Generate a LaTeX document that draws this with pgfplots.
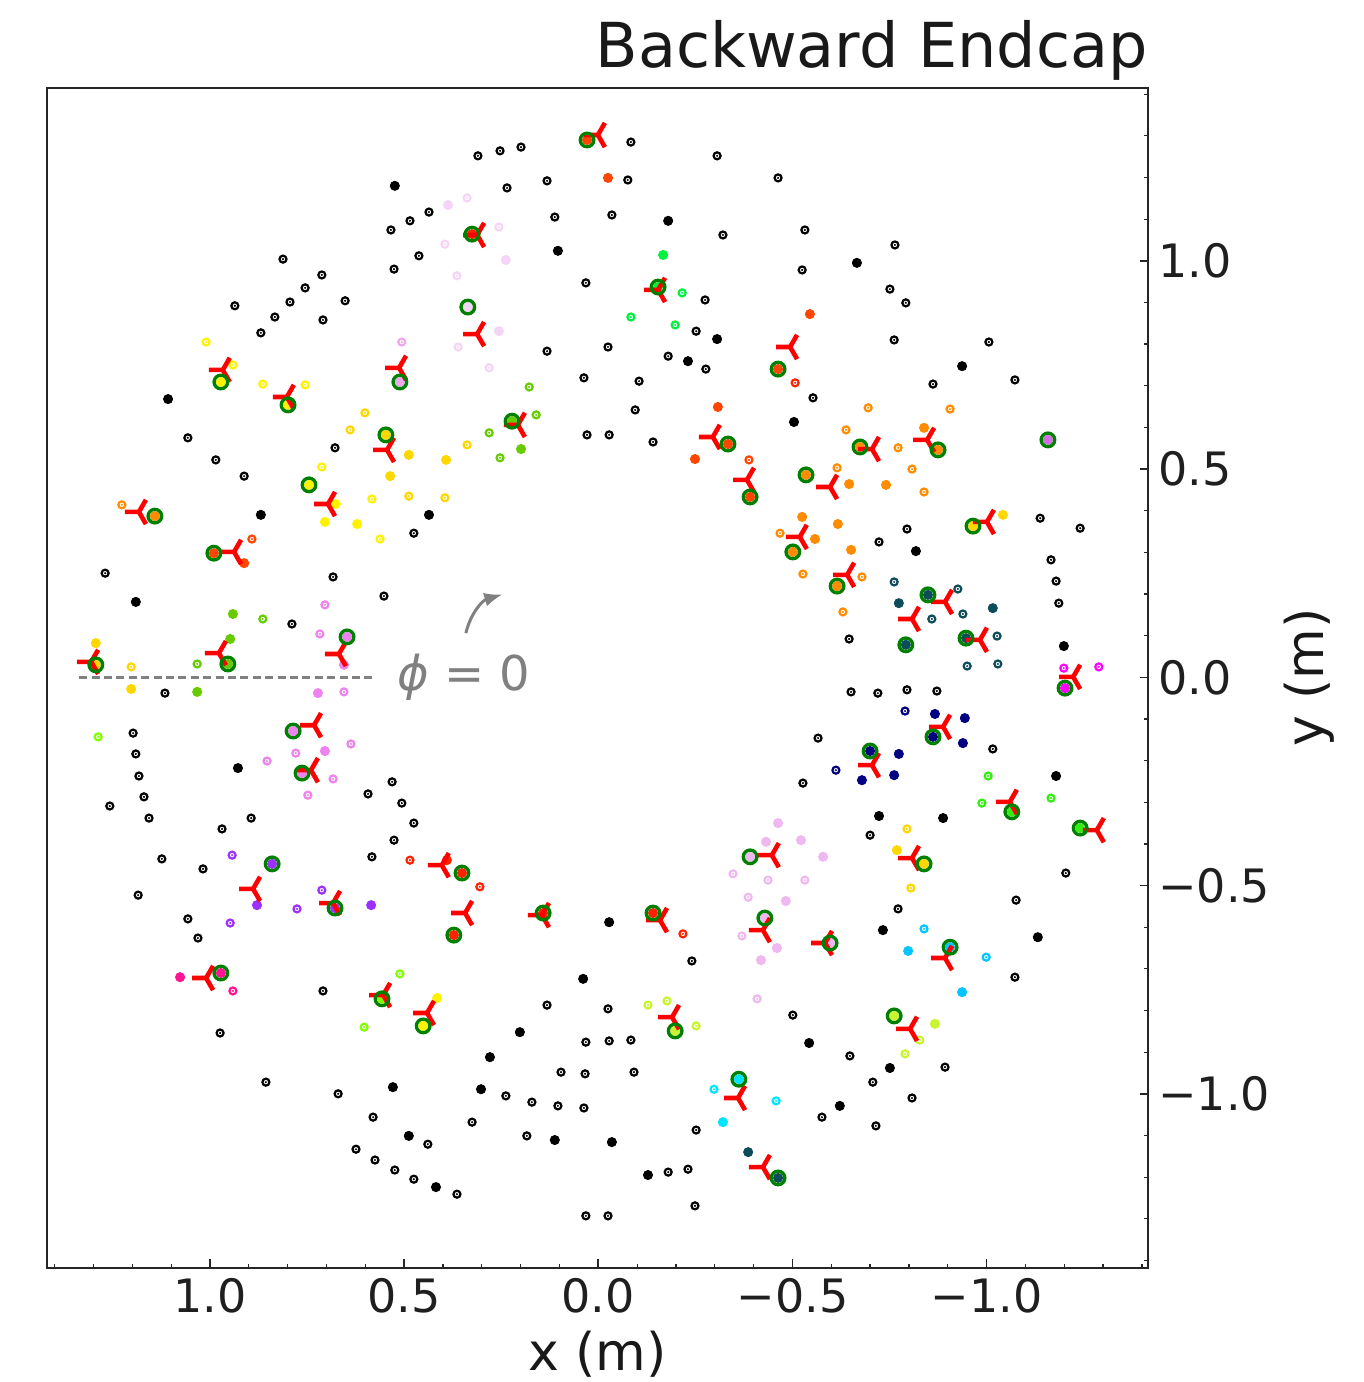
\documentclass[border=0pt]{standalone}
\usepackage{pgfplots}
\pgfplotsset{compat=1.18}
\usepackage{fontspec}
\setmainfont{DejaVu Sans}
\usetikzlibrary{arrows.meta}

\definecolor{cOR}{HTML}{FF4500}
\definecolor{cRD}{HTML}{FF2200}
\definecolor{cOG}{HTML}{FF8C00}
\definecolor{cGD}{HTML}{FFD700}
\definecolor{cYE}{HTML}{FFF200}
\definecolor{cGN}{HTML}{66CC00}
\definecolor{cLM}{HTML}{00F040}
\definecolor{cLMt}{HTML}{33EE11}
\definecolor{cLG}{HTML}{80FF00}
\definecolor{cGY}{HTML}{C8F530}
\definecolor{cVI}{HTML}{EE82EE}
\definecolor{cLP}{HTML}{F5D5F5}
\definecolor{cPL}{HTML}{EBA8EB}
\definecolor{cLQ}{HTML}{F0B8F0}
\definecolor{cOC}{HTML}{D070E0}
\definecolor{cPU}{HTML}{9B30FF}
\definecolor{cDP}{HTML}{FF1493}
\definecolor{cMG}{HTML}{FF00FF}
\definecolor{cNV}{HTML}{000080}
\definecolor{cTL}{HTML}{0E4C5C}
\definecolor{cCY}{HTML}{00E5FF}
\definecolor{cSB}{HTML}{00C5FF}
\definecolor{cGC}{HTML}{008000}

\pgfdeclareplotmark{ringdot}{%
  \pgfsetlinewidth{1.1pt}%
  \pgfpathcircle{\pgfpointorigin}{\pgfplotmarksize}%
  \pgfusepathqfillstroke
  \pgfsetlinewidth{0.7pt}%
  \pgfpathcircle{\pgfpointorigin}{0.1pt}%
  \pgfusepathqstroke
}
\pgfdeclareplotmark{gcirc}{%
  \pgfsetlinewidth{1.65pt}%
  \pgfpathcircle{\pgfpointorigin}{\pgfplotmarksize}%
  \pgfusepathqstroke
}
\pgfdeclareplotmark{trileft}{%
  \pgfsetlinewidth{2.3pt}%
  \pgfsetbuttcap
  \pgfpathmoveto{\pgfpoint{-\pgfplotmarksize}{0pt}}%
  \pgfpathlineto{\pgfpoint{0pt}{0pt}}%
  \pgfpathlineto{\pgfpoint{0.5\pgfplotmarksize}{0.866\pgfplotmarksize}}%
  \pgfpathmoveto{\pgfpoint{0pt}{0pt}}%
  \pgfpathlineto{\pgfpoint{0.5\pgfplotmarksize}{-0.866\pgfplotmarksize}}%
  \pgfusepathqstroke
}
\newcommand\ringp[2]{\addplot[only marks, color=#1, mark=ringdot, mark size=1.75pt, mark options={draw=#1, fill=white}] coordinates {#2};}
\newcommand\fillp[2]{\addplot[only marks, color=#1, mark=*, mark size=2.3pt, mark options={draw=#1, fill=#1}] coordinates {#2};}

\begin{document}
\begin{tikzpicture}
\useasboundingbox (-23.5pt,-57.15pt) rectangle (658.5pt,633.85pt);
\begin{axis}[
  at={(0,0)}, anchor=south west,
  scale only axis, width=550.5pt, height=590pt,
  xmin=-1.4157, xmax=1.4198, ymin=-1.4175, ymax=1.4156,
  x dir=reverse,
  xtick={-1,-0.5,0,0.5,1}, xticklabels={−1.0,−0.5,0.0,0.5,1.0},
  ytick={-1,-0.5,0,0.5,1}, yticklabels={−1.0,−0.5,0.0,0.5,1.0},
  minor xtick={-1.4,-1.3,-1.2,-1.1,-0.9,-0.8,-0.7,-0.6,-0.4,-0.3,-0.2,-0.1,0.1,0.2,0.3,0.4,0.6,0.7,0.8,0.9,1.1,1.2,1.3,1.4},
  minor ytick={-1.4,-1.3,-1.2,-1.1,-0.9,-0.8,-0.7,-0.6,-0.4,-0.3,-0.2,-0.1,0.1,0.2,0.3,0.4,0.6,0.7,0.8,0.9,1.1,1.2,1.3,1.4},
  xtick pos=left, ytick pos=right, yticklabel pos=right,
  tick align=inside,
  major tick length=4.2pt, minor tick length=2pt,
  major tick style={line width=0.8pt, black!85},
  minor tick style={line width=0.6pt, black!85},
  axis line style={line width=0.9pt, black!85},
  xticklabel style={font=\fontsize{23}{27}\selectfont, text=black!88, inner sep=0pt, anchor=north, yshift=-5pt},
  yticklabel style={font=\fontsize{23}{27}\selectfont, text=black!88, inner sep=0pt, anchor=west, xshift=5pt},
  every axis title shift=0pt,
  title={Backward Endcap},
  title style={at={(axis description cs:1,1.0175)}, anchor=base east, inner sep=0pt, font=\fontsize{31}{37}\selectfont, text=black!90},
  xlabel={x (m)},
  xlabel style={at={(axis description cs:0.5,-0.0875)}, anchor=base, inner sep=0pt, font=\fontsize{26}{31}\selectfont, text=black!90},
  ylabel={y (m)},
  ylabel style={at={(axis description cs:1.159,0.5)}, anchor=base, inner sep=0pt, font=\fontsize{26}{31}\selectfont, text=black!90},
]
% phi = 0 guide
\addplot[color=gray, line width=1.3pt, dash pattern=on 4pt off 2.2pt] coordinates {(1.337,0) (0.578,0)};
\draw[gray, line width=1.5pt, -{Latex[length=9pt,width=7pt]}] (axis cs:0.341,0.106) to[bend left=30] (axis cs:0.247,0.199);
\node[anchor=base, text=gray, font=\fontsize{24}{29}\selectfont, inner sep=0pt] at (axis cs:0.347,-0.0305) {\textit{ϕ} = 0};

% black hits
\ringp{black}{(0.310,1.252) (0.253,1.264) (0.199,1.273) (-0.084,1.285) (-0.306,1.252) (-0.463,1.199) (-0.076,1.194) (0.235,1.175) (0.132,1.192) (0.436,1.117) (0.485,1.096) (0.534,1.074) (0.526,0.980) (0.112,1.105) (-0.035,1.110) (-0.321,1.062) (0.462,1.012) (0.812,1.004) (0.712,0.966) (0.755,0.935) (0.794,0.901) (0.652,0.904) (0.936,0.892) (0.833,0.865) (0.709,0.858) (0.869,0.827) (0.032,0.947) (-0.275,0.906) (-0.252,0.831) (0.132,0.783) (-0.025,0.793) (-0.180,0.771) (-0.277,0.740) (0.037,0.719) (-0.105,0.711) (0.029,0.582) (-0.028,0.582) (-0.141,0.565) (-0.532,1.074) (-0.764,1.038) (-0.525,0.978) (-0.751,0.932) (-0.792,0.899) (-0.553,0.671) (-0.762,0.810) (-1.006,0.805) (-0.862,0.704) (-1.073,0.714) (0.678,0.551) (1.057,0.575) (0.985,0.522) (0.912,0.483) (0.475,0.346) (1.270,0.250) (0.683,0.241) (0.552,0.195) (0.789,0.128) (1.116,-0.038) (1.198,-0.134) (1.191,-0.184) (1.183,-0.237) (1.170,-0.287) (1.258,-0.309) (1.157,-0.338) (0.593,-0.280) (0.531,-0.251) (0.506,-0.302) (0.475,-0.350) (0.894,-0.338) (0.969,-0.364) (0.526,-0.391) (1.124,-0.436) (1.018,-0.460) (0.583,-0.431) (1.185,-0.523) (1.057,-0.580) (1.031,-0.626) (0.709,-0.753) (0.974,-0.854) (0.856,-0.972) (0.670,-1.000) (0.580,-1.056) (0.624,-1.133) (0.575,-1.159) (0.524,-1.183) (0.475,-1.205) (-0.795,0.356) (-0.723,0.325) (-1.138,0.382) (-1.241,0.358) (-1.166,0.282) (-1.179,0.231) (-1.186,0.178) (-0.646,0.092) (-0.651,-0.035) (-0.720,-0.038) (-0.795,-0.030) (-0.872,-0.033) (-1.016,-0.172) (-0.566,-0.146) (-0.527,-0.254) (-0.700,-0.379) (-1.204,-0.470) (-0.241,-0.681) (0.132,-0.787) (-0.025,-0.796) (0.032,-0.876) (-0.028,-0.873) (-0.084,-0.871) (0.096,-0.948) (0.034,-0.952) (-0.092,-0.948) (0.238,-1.005) (0.171,-1.020) (0.104,-1.029) (0.037,-1.034) (0.325,-1.068) (0.439,-1.121) (0.184,-1.101) (0.364,-1.241) (0.032,-1.293) (-0.025,-1.293) (-0.180,-1.188) (-0.231,-1.181) (-0.249,-1.269) (-0.772,-0.556) (-1.076,-0.535) (-1.073,-0.720) (-0.501,-0.811) (-0.648,-0.909) (-0.707,-0.972) (-0.808,-1.010) (-0.576,-1.056) (-0.715,-1.077) (-0.893,-0.936) (-0.252,-1.087) (-0.095,0.642)}
\fillp{black}{(0.524,1.180) (-0.180,1.096) (0.104,1.024) (-0.306,0.812) (-0.231,0.759) (-0.666,0.995) (-0.937,0.747) (-0.504,0.613) (1.108,0.668) (0.869,0.390) (0.436,0.390) (1.191,0.181) (0.928,-0.218) (-0.818,0.303) (-1.199,0.075) (-1.179,-0.237) (-0.723,-0.333) (-0.888,-0.338) (0.529,-0.984) (0.488,-1.101) (-0.028,-0.588) (0.039,-0.724) (0.202,-0.852) (0.279,-0.912) (0.302,-0.989) (0.112,-1.111) (-0.035,-1.116) (0.418,-1.224) (-0.128,-1.195) (-0.733,-0.607) (-1.132,-0.624) (-0.543,-0.878) (-0.751,-0.938) (-0.622,-1.029)}

% coloured clusters
\ringp{cOR}{(-0.388,0.522) (0.892,0.332)}
\fillp{cOR}{(-0.025,1.199) (-0.308,0.649) (-0.249,0.524) (-0.545,0.872) (0.912,0.274) (0.029,1.290) (-0.334,0.560) (0.990,0.298) (-0.391,0.433) (-0.463,0.740)}
\ringp{cRD}{(-0.507,0.707) (0.305,-0.503) (-0.218,-0.616) (0.485,-0.439)}
\fillp{cRD}{(0.372,-0.619) (0.142,-0.566) (-0.141,-0.566) (0.351,-0.470) (0.325,1.064) (0.390,-0.439)}
\ringp{cOG}{(-0.695,0.647) (-0.906,0.644) (-0.638,0.594) (-0.772,0.551) (-0.615,0.503) (-0.808,0.500) (-0.839,0.445) (-0.468,0.346) (-0.527,0.248) (-0.679,0.241) (-0.630,0.157) (1.227,0.414)}
\fillp{cOG}{(-0.839,0.599) (-0.646,0.464) (-0.741,0.462) (-0.525,0.385) (-0.617,0.368) (-0.558,0.332) (-0.651,0.306) (-0.674,0.553) (-0.875,0.546) (-0.535,0.486) (-0.501,0.301) (-0.615,0.219) (1.142,0.387)}
\ringp{cGD}{(0.601,0.635) (0.639,0.594) (0.488,0.435) (0.395,0.431) (0.338,0.558) (1.203,0.025) (-0.795,-0.364) (-0.805,-0.506)}
\fillp{cGD}{(0.488,0.534) (0.536,0.483) (0.392,0.522) (1.294,0.082) (1.203,-0.028) (-1.042,0.390) (-0.769,-0.415) (0.547,0.582) (1.294,0.030) (-0.965,0.363) (-0.839,-0.448)}
\ringp{cYE}{(1.010,0.805) (0.941,0.750) (0.864,0.704) (0.755,0.702) (0.712,0.505) (0.583,0.428) (0.562,0.332)}
\fillp{cYE}{(0.676,0.416) (0.704,0.373) (0.621,0.368) (0.415,-0.770) (0.972,0.709) (0.799,0.654) (0.745,0.462) (0.451,-0.837)}
\ringp{cGN}{(0.178,0.697) (0.160,0.630) (0.281,0.587) (0.253,0.527) (0.864,0.140) (1.033,0.032)}
\fillp{cGN}{(0.199,0.548) (0.941,0.152) (0.948,0.092) (1.033,-0.035) (0.222,0.615) (0.954,0.032)}
\ringp{cLM}{(-0.216,0.923) (-0.084,0.865) (-0.198,0.846)}
\fillp{cLM}{(-0.167,1.014) (-0.154,0.937)}
\ringp{cLMt}{(-1.004,-0.237) (-0.988,-0.302) (-1.166,-0.290)}
\fillp{cLMt}{(-1.065,-0.323) (-1.241,-0.362)}
\ringp{cLG}{(1.288,-0.143) (0.511,-0.712) (0.603,-0.840)}
\fillp{cLG}{(0.557,-0.772)}
\ringp{cGY}{(-0.128,-0.787) (-0.177,-0.777) (-0.252,-0.837) (-0.828,-0.871) (-0.790,-0.904)}
\fillp{cGY}{(-0.867,-0.832) (-0.198,-0.849) (-0.762,-0.813)}
\ringp{cVI}{(0.704,0.174) (0.717,0.104) (0.655,-0.035) (0.779,-0.182) (0.853,-0.201) (0.637,-0.160) (0.683,-0.244) (0.748,-0.283)}
\fillp{cVI}{(0.655,0.030) (0.722,-0.038) (0.704,-0.177) (0.647,0.097) (0.786,-0.129) (0.763,-0.230)}
\ringp{cLP}{(0.338,1.151) (0.256,1.081) (0.395,1.040) (0.364,0.964) (0.361,0.793) (0.281,0.743)}
\fillp{cLP}{(0.387,1.134) (0.238,1.002) (0.256,0.831) (0.336,0.889)}
\ringp{cPL}{(0.506,0.805)}
\fillp{cPL}{(0.511,0.709)}
\ringp{cLQ}{(-0.347,-0.472) (-0.437,-0.487) (-0.386,-0.528) (-0.370,-0.621) (-0.409,-0.772) (-0.532,-0.487)}
\fillp{cLQ}{(-0.432,-0.395) (-0.463,-0.350) (-0.522,-0.391) (-0.579,-0.431) (-0.460,-0.650) (-0.419,-0.679) (-0.483,-0.537) (-0.391,-0.431) (-0.429,-0.578) (-0.597,-0.638)}
\fillp{cOC}{(-1.158,0.570)}
\ringp{cPU}{(0.943,-0.427) (0.712,-0.511) (0.776,-0.556) (0.948,-0.590)}
\fillp{cPU}{(0.879,-0.547) (0.585,-0.547) (0.840,-0.448) (0.678,-0.554)}
\ringp{cDP}{(0.941,-0.753)}
\fillp{cDP}{(1.077,-0.720) (0.972,-0.710)}
\ringp{cMG}{(-1.199,0.022) (-1.289,0.025)}
\fillp{cMG}{(-1.202,-0.026)}
\ringp{cNV}{(-0.790,-0.081) (-0.612,-0.223)}
\fillp{cNV}{(-0.867,-0.088) (-0.944,-0.098) (-0.939,-0.158) (-0.774,-0.184) (-0.679,-0.247) (-0.762,-0.235) (-0.862,-0.143) (-0.700,-0.177)}
\ringp{cTL}{(-0.762,0.229) (-0.859,0.140) (-1.027,0.099) (-0.950,0.027) (-1.029,0.032) (-0.926,0.212) (-0.939,0.152)}
\fillp{cTL}{(-0.774,0.178) (-1.016,0.166) (-0.386,-1.140) (-0.849,0.198) (-0.792,0.078) (-0.947,0.094) (-0.463,-1.202)}
\ringp{cCY}{(-0.298,-0.989) (-0.458,-1.017)}
\fillp{cCY}{(-0.321,-1.068) (-0.362,-0.965)}
\ringp{cSB}{(-0.839,-0.604) (-0.999,-0.672)}
\fillp{cSB}{(-0.798,-0.657) (-0.937,-0.756) (-0.906,-0.648)}

% reconstructed markers
\addplot[only marks, color=red, mark=trileft, mark size=7pt, mark options={draw=red}] coordinates {(0.001,1.302) (0.312,1.062) (-0.154,0.930) (-0.494,0.793) (0.967,0.738) (0.802,0.673) (0.513,0.743) (0.207,0.606) (0.544,0.546) (-0.295,0.577) (-0.383,0.474) (-0.705,0.548) (-0.847,0.570) (-0.597,0.457) (0.696,0.416) (1.183,0.397) (0.938,0.301) (0.668,0.056) (1.306,0.037) (0.977,0.058) (0.732,-0.115) (0.740,-0.223) (0.889,-0.508) (0.683,-0.542) (1.010,-0.722) (0.554,-0.763) (0.403,-0.451) (0.343,-0.566) (0.145,-0.571) (-0.159,-0.583) (-0.447,-0.427) (-0.424,-0.607) (0.441,-0.806) (-0.190,-0.816) (-0.360,-1.010) (-0.424,-1.176) (-0.519,0.337) (-0.641,0.246) (-0.893,0.181) (-0.808,0.140) (-0.983,0.090) (-1.001,0.373) (-1.223,0.001) (-0.888,-0.119) (-0.705,-0.211) (-1.060,-0.299) (-1.284,-0.367) (-0.808,-0.434) (-0.584,-0.638) (-0.893,-0.674) (-0.803,-0.844) (0.312,0.824)};
\addplot[only marks, color=cGC, mark=gcirc, mark size=3.4pt, mark options={draw=cGC}] coordinates {(0.029,1.290) (0.325,1.064) (-0.154,0.937) (-0.463,0.740) (0.972,0.709) (0.799,0.654) (0.511,0.709) (0.222,0.615) (0.547,0.582) (-0.334,0.560) (-0.391,0.433) (-0.674,0.553) (-0.875,0.546) (-1.158,0.570) (-0.535,0.486) (0.745,0.462) (1.142,0.387) (0.990,0.298) (0.647,0.097) (1.294,0.030) (0.954,0.032) (0.786,-0.129) (0.763,-0.230) (0.840,-0.448) (0.678,-0.554) (0.972,-0.710) (0.557,-0.772) (0.351,-0.470) (0.372,-0.619) (0.142,-0.566) (-0.141,-0.566) (-0.391,-0.431) (-0.429,-0.578) (0.451,-0.837) (-0.198,-0.849) (-0.362,-0.965) (-0.463,-1.202) (-0.501,0.301) (-0.615,0.219) (-0.965,0.363) (-0.849,0.198) (-0.792,0.078) (-0.947,0.094) (-1.202,-0.026) (-0.862,-0.143) (-0.700,-0.177) (-1.065,-0.323) (-1.241,-0.362) (-0.839,-0.448) (-0.597,-0.638) (-0.906,-0.648) (-0.762,-0.813) (0.336,0.889)};
\end{axis}
\end{tikzpicture}
\end{document}
